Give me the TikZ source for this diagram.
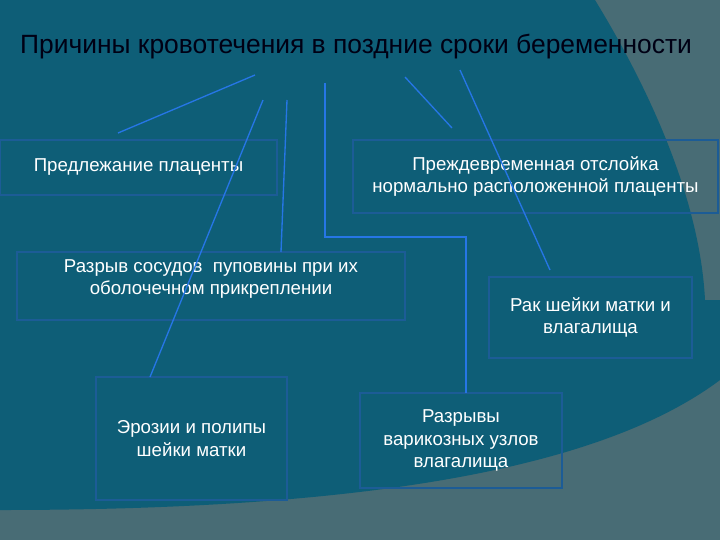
\documentclass[tikz,border=0pt]{standalone}
\usepackage{fontspec}
\setmainfont{Liberation Sans}
\begin{document}
\begin{tikzpicture}[x=0.75pt,y=-0.75pt,
  box/.style={draw=boxline,line width=1.2pt,text=white,align=center,font=\fontsize{14}{17}\selectfont,inner sep=0pt},
  link/.style={draw=linkblue,line width=1pt}]
\definecolor{darkbg}{HTML}{0E5E77}
\definecolor{lightbg}{HTML}{486C75}
\definecolor{boxline}{HTML}{1C5C96}
\definecolor{linkblue}{HTML}{2676E6}
\useasboundingbox (0,0) rectangle (720,540);
\fill[lightbg] (0,0) rectangle (720,540);
\fill[darkbg] (0,0) -- (595,0) .. controls (650,90) and (700,200) .. (705,300) -- (720,300) -- (720,380)
  .. controls (600,470) and (360,510) .. (0,510) -- cycle;
\node[text=black!90!blue!80!black,font=\fontsize{19.8}{24}\selectfont] (title) at (356,47) {Причины кровотечения в поздние сроки беременности};
\node[box,minimum width={277*0.75pt},minimum height={55*0.75pt}] (b1) at (138.5,167.5) {Предлежание плаценты};
\node[box,minimum width={365*0.75pt},minimum height={73*0.75pt}] (b2) at (535.5,176.5) {Преждевременная отслойка\\нормально расположенной плаценты};
\node[box,minimum width={388*0.75pt},minimum height={68*0.75pt}] (b3) at (211,286) {};
\node[align=center,text=white,font=\fontsize{14}{17}\selectfont] (t3) at (211,279) {Разрыв сосудов\ \ пуповины при их\\оболочечном прикреплении};
\node[box,minimum width={203*0.75pt},minimum height={81*0.75pt}] (b4) at (590.5,317.5) {Рак шейки матки и\\влагалища};
\node[box,minimum width={191*0.75pt},minimum height={123*0.75pt}] (b5) at (191.5,438.5) {Эрозии и полипы\\шейки матки};
\node[box,minimum width={202*0.75pt},minimum height={95*0.75pt}] (b6) at (461,440.5) {Разрывы\\варикозных узлов\\влагалища};
\coordinate (a1) at (255,75); \coordinate (e1) at (118,133);
\coordinate (a2) at (263,100); \coordinate (e2) at (150,377);
\coordinate (a3) at (287,100); \coordinate (e3) at (281,252);
\coordinate (a4) at (325,83); \coordinate (m4) at (325,237); \coordinate (n4) at (466,237); \coordinate (e4) at (466,393);
\coordinate (a5) at (405,77); \coordinate (e5) at (452,128);
\coordinate (a6) at (460,70); \coordinate (e6) at (550,270);
\draw[link] (a1) -- (e1);
\draw[link] (a2) -- (e2);
\draw[link] (a3) -- (e3);
\draw[link] (a4) -- (m4) -- (n4) -- (e4);
\draw[link] (a5) -- (e5);
\draw[link] (a6) -- (e6);
\end{tikzpicture}
\end{document}
